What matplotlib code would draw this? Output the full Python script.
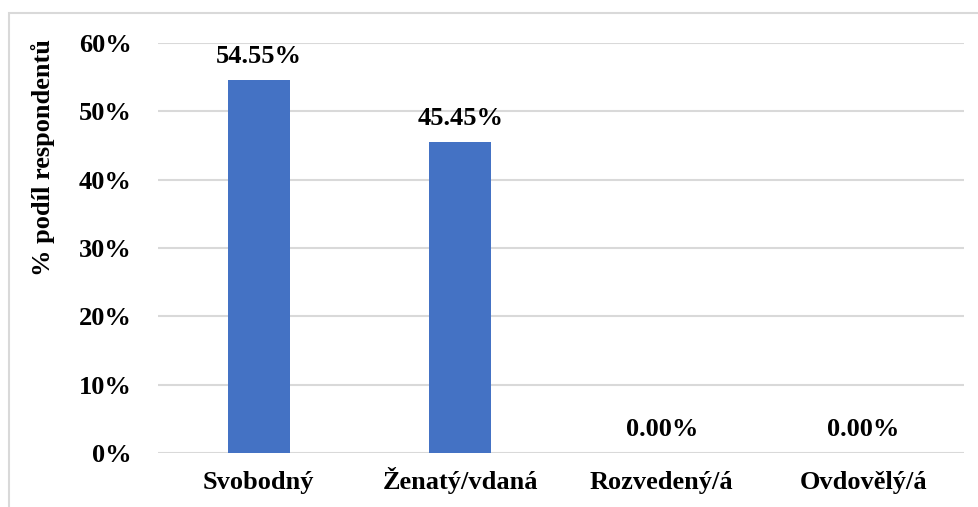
import matplotlib.pyplot as plt
from matplotlib.patches import Rectangle

categories = ['Svobodný', 'Ženatý/vdaná', 'Rozvedený/á', 'Ovdovělý/á']
values = [54.55, 45.45, 0.00, 0.00]
yticks = [0, 10, 20, 30, 40, 50, 60]

plt.rcParams['font.family'] = ['Liberation Serif', 'DejaVu Serif']
plt.rcParams['font.weight'] = 'bold'

fig = plt.figure(figsize=(9.79, 5.07), dpi=100)
# light frame round the chart area
fig.patches.append(Rectangle((9/979, -0.01), 1.2, 1 - 13/507 + 0.01, transform=fig.transFigure,
                             fill=False, edgecolor='#d9d9d9', linewidth=1.5))
ax = fig.add_axes([158/979, 1 - 453/507, (964 - 158)/979, (453 - 43)/507])

x = range(len(categories))
ax.bar(x, values, width=0.31, color='#4472C4', zorder=3)
for xi, v in zip(x, values):
    ax.text(xi, v + 2.5, '%.2f%%' % v, ha='center', va='baseline', fontsize=19, fontweight='bold')

ax.set_xlim(-0.5, 3.5)
ax.set_ylim(0, 60)
ax.set_yticks(yticks)
ax.set_yticklabels(['%d%%' % t for t in yticks], fontsize=19, fontweight='bold')
ax.set_xticks(list(x))
ax.set_xticklabels(categories, fontsize=19, fontweight='bold', va='baseline')
ax.tick_params(axis='both', length=0)
ax.tick_params(axis='y', pad=19)
ax.tick_params(axis='x', pad=26)
ax.grid(axis='y', color='#d9d9d9', linewidth=1.5, zorder=0)
for s in ax.spines.values():
    s.set_visible(False)
fig.text(43/979, 1 - 158/507, '% podíl respondentů', rotation=90, ha='center', va='center',
         fontsize=19, fontweight='bold')

fig.savefig('out.png', dpi=100)
